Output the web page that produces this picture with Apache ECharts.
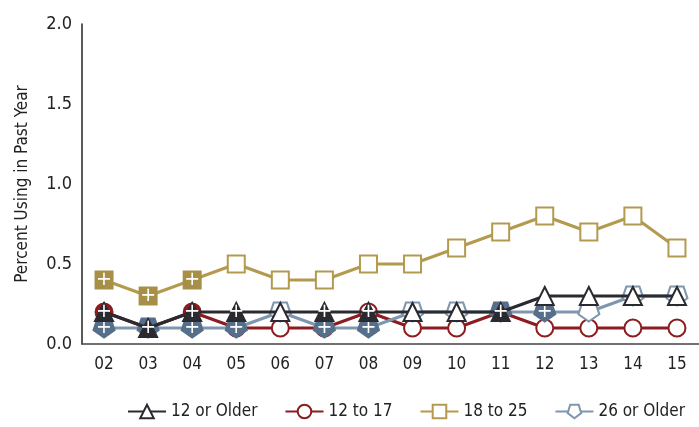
<!DOCTYPE html>
<html><head><meta charset="utf-8">
<script src="https://cdn.jsdelivr.net/npm/echarts@6/dist/echarts.min.js"></script>
<style>html,body{margin:0;padding:0;background:#fff}#c{width:699px;height:427px}</style>
</head><body><div id="c"></div>
<script>
var years = ['02','03','04','05','06','07','08','09','10','11','12','13','14','15'];
var yTicks = [0, 0.5, 1.0, 1.5, 2.0];
var seriesNames = ['12 or Older','12 to 17','18 to 25','26 or Older'];
var age12plus = [0.2,0.1,0.2,0.2,0.2,0.2,0.2,0.2,0.2,0.2,0.3,0.3,0.3,0.3];
var age12to17 = [0.2,0.1,0.2,0.1,0.1,0.1,0.2,0.1,0.1,0.2,0.1,0.1,0.1,0.1];
var age18to25 = [0.4,0.3,0.4,0.5,0.4,0.4,0.5,0.5,0.6,0.7,0.8,0.7,0.8,0.6];
var age26plus = [0.1,0.1,0.1,0.1,0.2,0.1,0.1,0.2,0.2,0.2,0.2,0.2,0.3,0.3];
// significance (filled marker with "+")
var sig12plus = [1,1,1,1,0,1,1,0,0,1,0,0,0,0];
var sig12to17 = [1,1,1,0,0,0,0,0,0,1,0,0,0,0];
var sig18to25 = [1,1,1,0,0,0,0,0,0,0,0,0,0,0];
var sig26plus = [1,1,1,1,0,1,1,0,0,1,1,0,0,0];

var FONT = "'Liberation Sans Narrow','DejaVu Sans Condensed',Arial,sans-serif";
var pent = 'path://M36,0 L154,0 L190,112 L95,181 L0,112 Z';

function mk(name, vals, sig, lineColor, fillColor, symbol, size, z) {
  return {
    name: name, type: 'line', z: z,
    symbol: symbol, symbolSize: size, symbolKeepAspect: false,
    lineStyle: {color: lineColor, width: 3},
    itemStyle: {color: '#fff', borderColor: lineColor, borderWidth: 2, opacity: 1},
    color: lineColor,
    label: {show: false, formatter: '+', position: 'inside', color: '#fff', fontSize: 19, fontFamily: 'DejaVu Sans', offset: [0, 0]},
    emphasis: {disabled: true},
    data: vals.map(function (v, i) {
      if (sig[i]) return {value: v, itemStyle: {color: fillColor, borderColor: fillColor}, label: {show: true}};
      return {value: v};
    })
  };
}

var chart = echarts.init(document.getElementById('c'));
chart.setOption({
  animation: false,
  textStyle: {fontFamily: FONT},
  grid: {left: 82, top: 24, height: 320, width: 625},
  legend: {
    left: 122, bottom: 2, itemWidth: 38, itemHeight: 17, itemGap: 27,
    textStyle: {fontFamily: FONT, fontSize: 17, color: '#222'},
    data: seriesNames
  },
  xAxis: {
    type: 'category', data: years, boundaryGap: true,
    axisLine: {lineStyle: {color: '#444', width: 1.5}},
    axisTick: {show: false},
    axisLabel: {fontFamily: FONT, fontSize: 17, color: '#222', margin: 12}
  },
  yAxis: {
    type: 'value', min: yTicks[0], max: yTicks[yTicks.length - 1], interval: 0.5,
    name: 'Percent Using in Past Year', nameLocation: 'middle', nameGap: 51,
    nameTextStyle: {fontFamily: FONT, fontSize: 17, color: '#222'},
    axisLine: {show: true, lineStyle: {color: '#222', width: 1.5}},
    axisTick: {show: false},
    splitLine: {show: false},
    axisLabel: {fontFamily: FONT, fontSize: 18, color: '#222', margin: 10,
      formatter: function (v) { return v.toFixed(1); }}
  },
  series: [
    mk(seriesNames[1], age12to17, sig12to17, '#8c1c20', '#8c1c20', 'circle', 17, 2),
    mk(seriesNames[3], age26plus, sig26plus, '#7f96af', '#566f8a', pent, [21, 19], 3),
    mk(seriesNames[0], age12plus, sig12plus, '#2a2a31', '#2a2a31', 'triangle', 18, 4),
    mk(seriesNames[2], age18to25, sig18to25, '#b39a4f', '#a88f47', 'rect', 17, 5)
  ]
});
</script></body></html>
